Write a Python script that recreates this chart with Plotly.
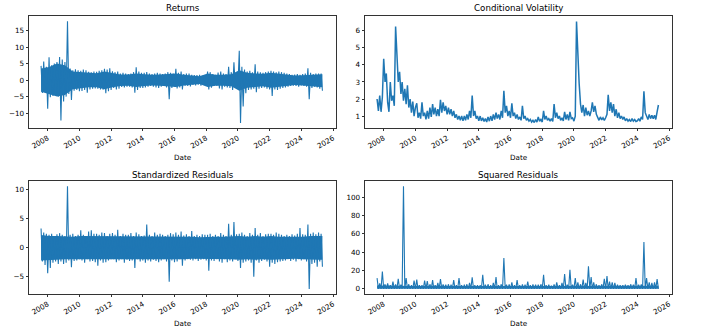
import pandas as pd
import plotly.graph_objects as go

# ---------------- data ----------------
# Monthly sampling, Aug 2007 .. May 2025 (214 months).
# For the noisy series each 2-month bin holds (high, low) of the trace.
start_month = "2007-08-01"
n_months = 214

# Returns: 2-month bins (Aug07, Oct07, Dec07, then Feb..Dec each year, Feb25, Apr25)
ret_hi = [
    4.3, 5.6, 4.0,
    6.9, 4.5, 5.0, 5.5, 7.0, 6.2,
    5.5, 17.8, 3.5, 3.0, 3.3, 3.0,
    2.8, 3.2, 3.0, 2.5, 2.4, 2.6,
    2.5, 2.8, 3.0, 3.4, 3.2, 3.6,
    2.7, 2.4, 2.6, 2.0, 2.2, 2.0,
    1.8, 2.0, 2.4, 3.9, 2.6, 2.2,
    2.2, 2.4, 2.0, 1.8, 2.0, 2.2,
    2.0, 1.8, 2.0, 2.4, 2.2, 2.0,
    3.4, 2.2, 2.6, 1.8, 2.0, 2.0,
    1.6, 1.5, 1.5, 1.6, 1.4, 1.5,
    2.6, 2.4, 1.8, 1.6, 2.3, 2.6,
    2.0, 1.8, 4.0, 2.4, 5.4, 1.8,
    8.9, 4.0, 3.2, 2.6, 2.8, 2.4,
    4.8, 2.6, 2.4, 2.2, 2.4, 2.6,
    2.8, 2.6, 2.4, 2.6, 2.4, 2.2,
    2.0, 1.8, 1.6, 1.7, 1.8, 1.6,
    1.8, 2.0, 3.6, 2.2, 1.8, 2.0,
    2.0, 2.0,
]
ret_lo = [
    -3.9, -3.5, -8.7,
    -5.2, -4.8, -4.5, -5.0, -12.2, -6.5,
    -5.0, -4.2, -6.0, -3.2, -3.0, -3.4,
    -3.3, -3.0, -3.8, -2.8, -2.6, -2.5,
    -2.6, -2.8, -2.9, -4.0, -3.4, -3.0,
    -2.4, -2.8, -2.6, -2.1, -2.2, -2.0,
    -2.0, -2.2, -3.8, -3.0, -2.4, -2.4,
    -2.2, -2.0, -1.8, -2.0, -2.2, -2.4,
    -2.0, -1.8, -2.2, -5.8, -2.4, -2.0,
    -2.5, -2.2, -2.8, -1.7, -1.8, -1.9,
    -1.5, -1.6, -1.4, -1.7, -1.3, -1.4,
    -2.8, -2.3, -1.8, -1.7, -2.5, -2.8,
    -2.0, -2.2, -2.4, -3.0, -2.0, -1.8,
    -13.0, -8.0, -4.0, -3.0, -2.8, -2.6,
    -3.7, -2.6, -2.4, -2.2, -2.6, -2.8,
    -4.8, -2.8, -3.0, -2.6, -2.4, -2.2,
    -2.0, -1.8, -1.7, -1.8, -2.0, -1.6,
    -1.8, -2.0, -5.8, -2.4, -2.0, -2.2,
    -2.6, -3.2,
]
# Solid core of the returns band, half-yearly (Aug07, Feb08, Aug08, ..., Feb25, May25)
ret_core_hi = [
    3.5, 4.0, 5.0, 4.5, 2.6, 2.4, 2.1, 2.1, 2.6, 2.1,
    1.7, 1.7, 2.0, 1.8, 1.6, 1.7, 1.9, 2.0, 1.6, 1.3,
    1.2, 2.0, 1.6, 1.6, 1.8, 3.0, 2.2, 2.0, 1.9, 2.2,
    2.0, 1.6, 1.4, 1.5, 1.7, 1.8, 1.8,
]
ret_core_lo = [
    -3.5, -4.2, -5.0, -4.5, -2.8, -2.5, -2.2, -2.2, -2.8, -2.2,
    -1.8, -1.7, -2.1, -1.8, -1.6, -1.7, -2.0, -2.1, -1.6, -1.3,
    -1.2, -2.1, -1.7, -1.7, -1.9, -3.2, -2.3, -2.1, -1.9, -2.3,
    -2.1, -1.7, -1.5, -1.6, -1.8, -2.0, -2.2,
]

# Conditional volatility: monthly values (Aug07..Dec07, Jan..Dec each year, Jan25..May25)
vol = [
    2.0, 1.3, 2.2, 1.25, 2.1,
    4.36, 3.0, 3.5, 1.8, 1.25, 3.0, 1.9, 2.2, 1.6, 6.25, 4.2, 3.0,
    3.6, 2.3, 3.0, 1.9, 2.6, 1.7, 2.8, 1.5, 2.0, 1.2, 1.85, 1.0,
    1.5, 1.75, 0.9, 1.2, 0.85, 1.8, 1.0, 1.2, 0.8, 1.3, 0.85, 1.5,
    0.95, 1.7, 1.1, 1.5, 1.0, 1.4, 1.0, 1.95, 1.2, 1.8, 1.3, 1.6,
    1.1, 1.5, 1.1, 1.4, 1.0, 1.3, 0.9, 1.1, 0.8, 1.0, 0.75, 1.0,
    0.72, 1.0, 0.75, 1.1, 0.8, 1.3, 0.9, 2.2, 1.0, 1.3, 0.85, 1.0,
    0.72, 1.0, 0.72, 0.9, 0.68, 0.85, 0.65, 0.95, 0.7, 1.0, 0.72, 1.1,
    0.8, 1.2, 0.85, 1.1, 0.8, 1.3, 0.9, 2.48, 1.2, 1.6, 1.0, 1.3,
    0.9, 1.75, 1.0, 1.2, 0.85, 1.1, 0.8, 0.95, 0.75, 1.6, 0.85, 1.0,
    0.75, 0.85, 0.7, 0.8, 0.65, 0.75, 0.62, 0.8, 0.65, 0.95, 0.7, 0.8,
    0.65, 1.3, 0.8, 1.0, 0.75, 0.85, 0.7, 0.85, 0.68, 1.7, 0.9, 1.2,
    0.85, 1.0, 0.75, 0.9, 0.72, 1.25, 0.8, 1.1, 0.75, 1.25, 0.85, 0.9,
    0.7, 1.0, 6.55, 4.2, 2.9, 1.7, 1.2, 1.65, 1.0, 1.5, 1.05, 1.3,
    1.0, 1.3, 1.8, 1.25, 1.6, 1.1, 0.9, 0.75, 0.95, 0.78, 0.9, 0.75,
    0.9, 1.1, 2.25, 1.3, 1.8, 1.2, 1.7, 1.0, 1.4, 0.9, 1.2, 0.85,
    1.0, 0.8, 0.95, 0.72, 0.85, 0.7, 0.8, 0.68, 0.85, 0.7, 0.8, 0.68,
    0.72, 0.85, 0.7, 0.95, 0.8, 2.45, 1.2, 1.0, 0.8, 1.1, 0.85, 1.05,
    0.85, 1.05, 0.8, 1.25, 1.65,
]

# Standardized residuals: 2-month bins (high, low)
std_hi = [
    3.3, 2.6, 2.4,
    2.2, 2.4, 2.0, 2.3, 2.5, 2.2,
    2.0, 10.6, 2.2, 2.4, 2.0, 2.2,
    3.0, 2.2, 2.0, 2.8, 3.0, 2.4,
    2.4, 2.2, 2.6, 2.5, 2.0, 2.4,
    2.5, 2.2, 3.1, 2.0, 2.4, 2.2,
    2.2, 2.5, 2.0, 2.6, 2.3, 2.0,
    2.1, 4.0, 2.2, 2.0, 2.6, 2.2,
    2.4, 2.2, 2.0, 2.2, 2.5, 2.3,
    2.6, 2.2, 2.8, 2.1, 2.3, 2.0,
    2.85, 2.0, 2.2, 2.0, 2.3, 2.2,
    2.2, 2.4, 2.0, 2.2, 2.0, 2.5,
    2.2, 2.0, 4.1, 2.2, 4.4, 2.3,
    2.4, 2.6, 2.2, 2.0, 2.5, 2.2,
    3.4, 2.2, 2.5, 2.0, 2.3, 2.4,
    2.4, 2.2, 2.6, 2.4, 2.2, 2.0,
    2.2, 2.0, 2.3, 2.1, 2.4, 3.4,
    2.3, 2.2, 4.0, 2.4, 2.6, 2.3,
    2.6, 2.4,
]
std_lo = [
    -2.4, -3.0, -4.4,
    -3.5, -2.6, -2.4, -2.8, -2.4, -2.8,
    -2.6, -2.2, -3.4, -2.3, -2.2, -2.0,
    -2.2, -2.6, -2.0, -2.4, -2.3, -2.5,
    -3.1, -2.2, -2.6, -2.5, -2.2, -2.0,
    -2.0, -2.5, -2.2, -2.0, -2.6, -2.1,
    -2.3, -2.2, -3.5, -2.0, -2.4, -2.2,
    -2.6, -2.2, -2.4, -2.1, -2.3, -2.5,
    -2.2, -2.0, -2.4, -5.9, -2.2, -2.5,
    -2.4, -2.0, -3.1, -2.2, -2.0, -2.1,
    -2.2, -2.0, -2.3, -2.1, -2.0, -2.2,
    -4.0, -2.2, -2.3, -2.0, -2.4, -2.6,
    -2.0, -2.5, -2.2, -2.4, -2.0, -2.3,
    -3.5, -2.6, -2.4, -2.2, -2.6, -5.0,
    -2.2, -2.6, -2.3, -2.1, -2.4, -3.3,
    -2.6, -2.8, -2.5, -2.4, -2.3, -2.2,
    -2.0, -2.3, -2.1, -2.4, -2.0, -2.2,
    -2.0, -2.4, -7.15, -2.8, -2.6, -3.3,
    -2.4, -3.3,
]
# Solid core of the standardized-residual band, half-yearly
std_core_hi = [
    2.2, 2.0, 2.0, 1.9, 1.9, 2.0, 2.0, 2.0, 2.0, 1.9,
    1.9, 2.0, 1.9, 2.0, 1.9, 1.9, 2.0, 2.0, 1.9, 1.9,
    1.8, 1.9, 1.9, 1.9, 2.0, 2.0, 1.9, 2.0, 1.9, 2.0,
    1.9, 1.9, 1.8, 1.9, 2.0, 2.0, 2.0,
]
std_core_lo = [
    -2.2, -2.1, -2.1, -2.0, -2.0, -2.0, -2.0, -2.1, -2.1, -2.0,
    -2.0, -2.0, -2.0, -2.1, -2.0, -2.0, -2.1, -2.1, -2.0, -1.9,
    -1.9, -2.0, -2.0, -2.0, -2.0, -2.1, -2.0, -2.1, -2.0, -2.1,
    -2.0, -2.0, -1.9, -2.0, -2.1, -2.1, -2.1,
]

# Squared residuals: 2-month bins, peak of each bin (floor is 0)
sq_hi = [
    11.7, 6.0, 19.0,
    5.0, 6.0, 4.0, 8.0, 5.0, 11.0,
    4.5, 112.0, 11.7, 5.0, 4.0, 9.0,
    10.0, 4.0, 4.0, 9.0, 8.5, 5.0,
    9.5, 4.0, 6.5, 10.6, 5.0, 4.5,
    5.0, 4.5, 9.5, 4.0, 11.7, 4.0,
    4.5, 5.0, 6.5, 12.5, 4.0, 4.0,
    4.0, 15.4, 4.5, 5.0, 4.0, 6.5,
    12.8, 4.0, 5.0, 33.7, 4.5, 5.0,
    7.0, 4.0, 9.5, 4.0, 5.0, 4.5,
    8.0, 4.0, 5.0, 4.5, 4.5, 5.0,
    15.4, 4.0, 4.5, 3.5, 5.0, 7.0,
    4.0, 6.5, 16.1, 4.5, 20.9, 4.5,
    11.7, 7.0, 5.0, 10.0, 6.5, 24.5,
    12.8, 7.0, 5.0, 4.0, 5.0, 11.0,
    13.9, 8.0, 7.0, 6.5, 4.5, 4.0,
    4.0, 4.5, 4.0, 5.0, 4.5, 11.7,
    4.5, 5.0, 51.0, 11.7, 7.0, 6.5,
    7.0, 10.6,
]
sq_floor = 0.0
# Solid core of the squared-residual band, half-yearly
sq_core = [
    3.6, 3.8, 3.6, 3.4, 3.2, 3.4, 3.2, 3.4, 3.4, 3.2,
    3.2, 3.4, 3.2, 3.4, 3.2, 3.2, 3.4, 3.4, 3.2, 3.0,
    3.0, 3.2, 3.2, 3.2, 3.4, 3.4, 3.2, 3.4, 3.2, 3.4,
    3.2, 3.2, 3.0, 3.2, 3.4, 3.4, 3.4,
]

titles = ["Returns", "Conditional Volatility", "Standardized Residuals", "Squared Residuals"]
year_ticks = list(range(2008, 2027, 2))
ret_ticks = [-10, -5, 0, 5, 10, 15]
vol_ticks = [1, 2, 3, 4, 5, 6]
std_ticks = [-5, 0, 5, 10]
sq_ticks = [0, 20, 40, 60, 80, 100]

# ---------------- build ----------------
months = pd.date_range(start_month, periods=n_months, freq="MS")
core_dates = list(months[::6]) + [months[-1]]


def zigzag(hi, lo):
    out = []
    for h, l in zip(hi, lo):
        out.extend([h, l])
    return out


ret_y = zigzag(ret_hi, ret_lo)
std_y = zigzag(std_hi, std_lo)
sq_y = zigzag(sq_hi, [sq_floor] * len(sq_hi))

BLUE = "#1f77b4"
LW = 1.1
FONT = "DejaVu Sans"
AX_COL = "#333333"

fig = go.Figure()


def add_band(top, bottom, xa, ya):
    fig.add_trace(go.Scatter(x=core_dates, y=top, mode="lines", xaxis=xa, yaxis=ya,
                             line=dict(color=BLUE, width=0), showlegend=False,
                             hoverinfo="skip"))
    if bottom is None:
        bottom = [sq_floor] * len(top)
    fig.add_trace(go.Scatter(x=core_dates, y=bottom, mode="lines", xaxis=xa, yaxis=ya,
                             line=dict(color=BLUE, width=0), fill="tonexty",
                             fillcolor=BLUE, showlegend=False, hoverinfo="skip"))


def add_line(ys, xa, ya, width=LW):
    fig.add_trace(go.Scatter(x=months, y=ys, mode="lines", xaxis=xa, yaxis=ya,
                             line=dict(color=BLUE, width=width), showlegend=False,
                             hoverinfo="skip"))


add_band(ret_core_hi, ret_core_lo, "x", "y")
add_line(ret_y, "x", "y")
add_line(vol, "x2", "y2", width=1.5)
add_band(std_core_hi, std_core_lo, "x3", "y3")
add_line(std_y, "x3", "y3")
add_band(sq_core, None, "x4", "y4")
add_line(sq_y, "x4", "y4")

W, H = 720, 335
xL = [29 / W, 336 / W]
xR = [365 / W, 672 / W]
yT = [1 - 128 / H, 1 - 16 / H]
yB = [1 - 294 / H, 1 - 181 / H]

xrange = ["2006-10-27", "2026-03-10"]
tickdates = [f"{y}-01-01" for y in year_ticks]
ticklabels = [str(y) for y in year_ticks]


def fmt(v):
    return ("\u2212" + str(abs(v))) if v < 0 else str(v)


common = dict(showline=True, mirror=True, linecolor=AX_COL, linewidth=0.8,
              ticks="outside", ticklen=2.5, tickwidth=0.8, tickcolor=AX_COL,
              showgrid=False, zeroline=False, automargin=False,
              tickfont=dict(family=FONT, size=7.2, color="#000000"))


def xax(domain, anchor):
    return dict(domain=domain, anchor=anchor, type="date", range=xrange,
                tickmode="array", tickvals=tickdates, ticktext=ticklabels,
                tickangle=-30, **common)


def yax(domain, anchor, rng, tv):
    return dict(domain=domain, anchor=anchor, range=rng, tickmode="array",
                tickvals=tv, ticktext=[fmt(v) for v in tv], **common)


fig.update_layout(
    width=W, height=H,
    margin=dict(l=0, r=0, t=0, b=0),
    paper_bgcolor="white", plot_bgcolor="white",
    xaxis=xax(xL, "y"), yaxis=yax(yT, "x", [-14.5, 19.4], ret_ticks),
    xaxis2=xax(xR, "y2"), yaxis2=yax(yT, "x2", [0.3, 6.87], vol_ticks),
    xaxis3=xax(xL, "y3"), yaxis3=yax(yB, "x3", [-8.0, 11.5], std_ticks),
    xaxis4=xax(xR, "y4"), yaxis4=yax(yB, "x4", [-5.6, 117.6], sq_ticks),
)

ann = []
centers = [(xL[0] + xL[1]) / 2, (xR[0] + xR[1]) / 2]
title_y = [1 - 8.5 / H, 1 - 174.5 / H]
date_y = [1 - 157 / H, 1 - 323 / H]
for i, t in enumerate(titles):
    cx = centers[i % 2]
    ann.append(dict(text=t, x=cx, y=title_y[i // 2], xref="paper", yref="paper",
                    showarrow=False, xanchor="center", yanchor="middle",
                    font=dict(family=FONT, size=8.7, color="#000000")))
    ann.append(dict(text="Date", x=cx, y=date_y[i // 2], xref="paper", yref="paper",
                    showarrow=False, xanchor="center", yanchor="middle",
                    font=dict(family=FONT, size=7.2, color="#000000")))
fig.update_layout(annotations=ann)

fig.write_html("out.html")
